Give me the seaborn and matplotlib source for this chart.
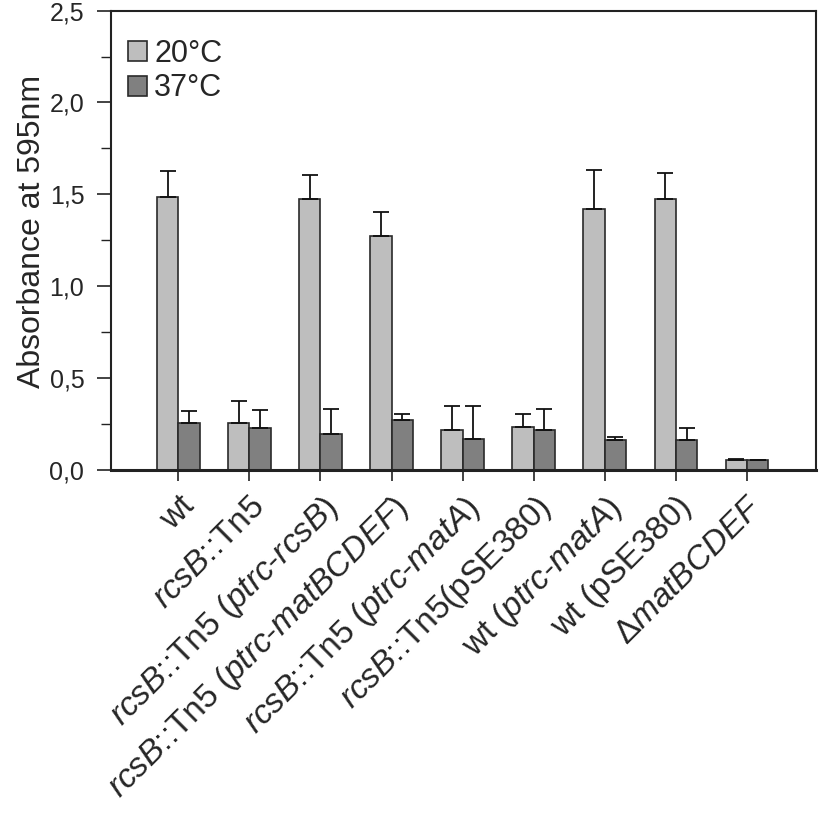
import matplotlib
matplotlib.use("Agg")
import matplotlib.pyplot as plt
import seaborn as sns
import pandas as pd
import numpy as np
from matplotlib.ticker import FuncFormatter, MultipleLocator

sns.set_style("white")
plt.rcParams['font.family'] = ['Liberation Sans', 'DejaVu Sans']
plt.rcParams['mathtext.fontset'] = 'custom'
plt.rcParams['mathtext.rm'] = 'Liberation Sans'
plt.rcParams['mathtext.it'] = 'Liberation Sans:italic'

strains = [
    "wt",
    r"$\it{rcsB}$::Tn5",
    r"$\it{rcsB}$::Tn5 ($\it{ptrc}$-$\it{rcsB}$)",
    r"$\it{rcsB}$::Tn5 ($\it{ptrc}$-$\it{matBCDEF}$)",
    r"$\it{rcsB}$::Tn5 ($\it{ptrc}$-$\it{matA}$)",
    r"$\it{rcsB}$::Tn5(pSE380)",
    r"wt ($\it{ptrc}$-$\it{matA}$)",
    "wt (pSE380)",
    r"Δ$\it{matBCDEF}$",
]
temps = ["20°C", "37°C"]
val_20 = [1.485, 0.257, 1.475, 1.274, 0.217, 0.235, 1.418, 1.475, 0.054]
err_20 = [0.142, 0.118, 0.130, 0.132, 0.134, 0.068, 0.216, 0.140, 0.007]
val_37 = [0.255, 0.230, 0.197, 0.272, 0.170, 0.219, 0.161, 0.161, 0.052]
err_37 = [0.067, 0.096, 0.134, 0.031, 0.181, 0.114, 0.020, 0.069, 0.005]

df = pd.DataFrame({
    "strain": strains * 2,
    "temp": [temps[0]] * len(strains) + [temps[1]] * len(strains),
    "value": val_20 + val_37,
})

fig = plt.figure(figsize=(8.2, 8.16), dpi=100)
ax = fig.add_axes([0.135, 0.424, 0.86, 0.563])

sns.barplot(data=df, x="strain", y="value", hue="temp", order=strains,
            hue_order=temps, palette=["#bebebe", "#808080"], width=0.6,
            errorbar=None, edgecolor="#2a2a2a", linewidth=1.2, ax=ax,
            saturation=1)

# error bars (upward only), positioned from the drawn bars
errs = {temps[0]: err_20, temps[1]: err_37}
vals = {temps[0]: val_20, temps[1]: val_37}
for cont, t in zip(ax.containers, temps):
    xs = [p.get_x() + p.get_width() / 2 for p in cont.patches]
    e = np.array(errs[t])
    ax.errorbar(xs, vals[t], yerr=[np.zeros_like(e), e], fmt="none",
                ecolor="#111111", elinewidth=1.3, capsize=6, capthick=1.3,
                zorder=1)

ax.set_ylim(0, 2.5)
ax.set_xlim(-0.95, len(strains) - 0.03)
ax.yaxis.set_major_locator(MultipleLocator(0.5))
ax.yaxis.set_minor_locator(MultipleLocator(0.25))
ax.yaxis.set_major_formatter(FuncFormatter(lambda v, p: f"{v:.1f}".replace(".", ",")))
ax.tick_params(axis="y", which="major", direction="out", length=10, width=1.2,
               labelsize=18, left=True, color="#222222", pad=9)
ax.tick_params(axis="y", which="minor", direction="out", length=7, width=1.0,
               left=True, color="#222222")
ax.tick_params(axis="x", direction="out", length=8, width=1.2, bottom=True,
               labelsize=24, color="#222222", pad=7)
plt.setp(ax.get_xticklabels(), rotation=45, ha="right", rotation_mode="anchor")

for s in ax.spines.values():
    s.set_visible(True)
    s.set_color("#222222")
    s.set_linewidth(1.5)
ax.spines["bottom"].set_linewidth(2.2)

ax.set_xlabel("")
ax.set_ylabel("Absorbance at 595nm", fontsize=23)
ax.yaxis.set_label_coords(-0.091, 0.52)

leg = ax.legend(loc="upper left", bbox_to_anchor=(0.024, 0.938), frameon=False,
                fontsize=22, handlelength=0.62, handleheight=0.62,
                handletextpad=0.25, labelspacing=0.14, borderaxespad=0.0,
                borderpad=0.0)
for h in leg.legend_handles:
    h.set_edgecolor("#2a2a2a")
    h.set_linewidth(1.2)

fig.savefig("out.png", dpi=100)
